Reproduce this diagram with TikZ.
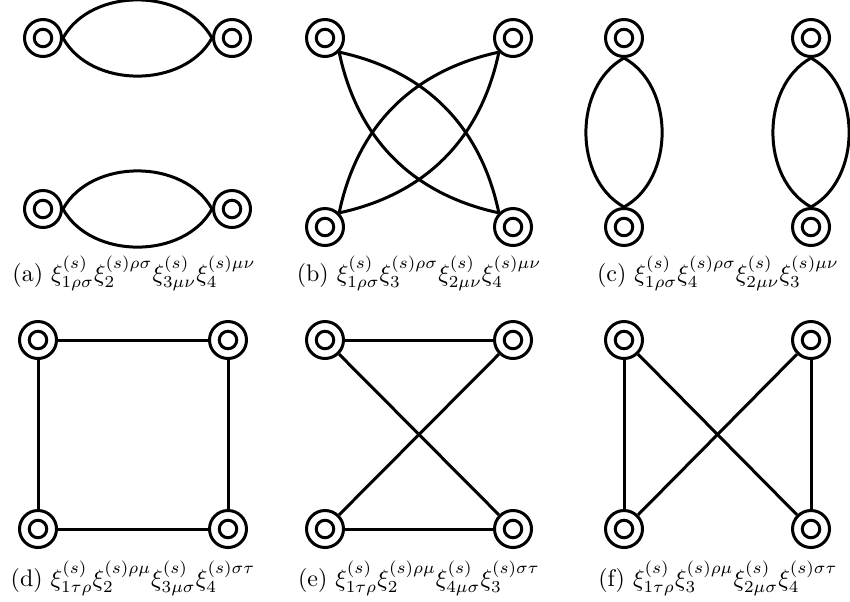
\documentclass[tikz,border=0pt]{standalone}
\begin{document}
\begin{tikzpicture}[x=0.4pt,y=0.4pt,
  vtx/.style={circle,draw,line width=1.2pt,minimum size=14.8pt,inner sep=0pt,
    path picture={\draw[line width=1.2pt] (path picture bounding box.center) circle (3.5pt);}},
  edge/.style={line width=1.2pt},
  captxt/.style={anchor=base,inner sep=0pt}]
\useasboundingbox (0,0) rectangle (850,-601);
% panel a
\node[vtx] (a1) at (43,-38) {};
\node[vtx] (a2) at (232,-38) {};
\node[vtx] (a3) at (43,-209) {};
\node[vtx] (a4) at (232,-209) {};
\draw[edge] (a1.east) to[out=61,in=119] (a2.west);
\draw[edge] (a1.east) to[out=-61,in=-119] (a2.west);
\draw[edge] (a3.east) to[out=61,in=119] (a4.west);
\draw[edge] (a3.east) to[out=-61,in=-119] (a4.west);
% panel b
\node[vtx] (b1) at (325,-38) {};
\node[vtx] (b2) at (513,-38) {};
\node[vtx] (b3) at (325,-227) {};
\node[vtx] (b4) at (513,-227) {};
\draw[edge] (b1.south east) to[bend left=33] (b4.north west);
\draw[edge] (b1.south east) to[bend right=33] (b4.north west);
\draw[edge] (b2.south west) to[bend left=33] (b3.north east);
\draw[edge] (b2.south west) to[bend right=33] (b3.north east);
% panel c
\node[vtx] (c1) at (624,-38) {};
\node[vtx] (c2) at (811,-38) {};
\node[vtx] (c3) at (624,-227) {};
\node[vtx] (c4) at (811,-227) {};
\draw[edge] (c1.south) to[out=-151,in=151] (c3.north);
\draw[edge] (c1.south) to[out=-29,in=29] (c3.north);
\draw[edge] (c2.south) to[out=-151,in=151] (c4.north);
\draw[edge] (c2.south) to[out=-29,in=29] (c4.north);
% panel d
\node[vtx] (d1) at (38,-340) {};
\node[vtx] (d2) at (228,-340) {};
\node[vtx] (d3) at (38,-529) {};
\node[vtx] (d4) at (228,-529) {};
\draw[edge] (d1) -- (d2);
\draw[edge] (d3) -- (d4);
\draw[edge] (d1) -- (d3);
\draw[edge] (d2) -- (d4);
% panel e
\node[vtx] (e1) at (325,-340) {};
\node[vtx] (e2) at (513,-340) {};
\node[vtx] (e3) at (325,-529) {};
\node[vtx] (e4) at (513,-529) {};
\draw[edge] (e1) -- (e2);
\draw[edge] (e3) -- (e4);
\draw[edge] (e1) -- (e4);
\draw[edge] (e2) -- (e3);
% panel f
\node[vtx] (f1) at (624,-340) {};
\node[vtx] (f2) at (811,-340) {};
\node[vtx] (f3) at (624,-529) {};
\node[vtx] (f4) at (811,-529) {};
\draw[edge] (f1) -- (f3);
\draw[edge] (f2) -- (f4);
\draw[edge] (f1) -- (f4);
\draw[edge] (f2) -- (f3);
% captions
\node[captxt] (capa) at (134,-281) {\scalebox{0.96}{(a) $\xi^{(s)}_{1\rho\sigma}\xi^{(s)\rho\sigma}_{2}\xi^{(s)}_{3\mu\nu}\xi^{(s)\mu\nu}_{4}$}};
\node[captxt] (capb) at (419,-281) {\scalebox{0.96}{(b) $\xi^{(s)}_{1\rho\sigma}\xi^{(s)\rho\sigma}_{3}\xi^{(s)}_{2\mu\nu}\xi^{(s)\mu\nu}_{4}$}};
\node[captxt] (capc) at (718,-281) {\scalebox{0.96}{(c) $\xi^{(s)}_{1\rho\sigma}\xi^{(s)\rho\sigma}_{4}\xi^{(s)}_{2\mu\nu}\xi^{(s)\mu\nu}_{3}$}};
\node[captxt] (capd) at (133,-586) {\scalebox{0.96}{(d) $\xi^{(s)}_{1\tau\rho}\xi^{(s)\rho\mu}_{2}\xi^{(s)}_{3\mu\sigma}\xi^{(s)\sigma\tau}_{4}$}};
\node[captxt] (cape) at (419,-586) {\scalebox{0.96}{(e) $\xi^{(s)}_{1\tau\rho}\xi^{(s)\rho\mu}_{2}\xi^{(s)}_{4\mu\sigma}\xi^{(s)\sigma\tau}_{3}$}};
\node[captxt] (capf) at (718,-586) {\scalebox{0.96}{(f) $\xi^{(s)}_{1\tau\rho}\xi^{(s)\rho\mu}_{3}\xi^{(s)}_{2\mu\sigma}\xi^{(s)\sigma\tau}_{4}$}};
\end{tikzpicture}
\end{document}
